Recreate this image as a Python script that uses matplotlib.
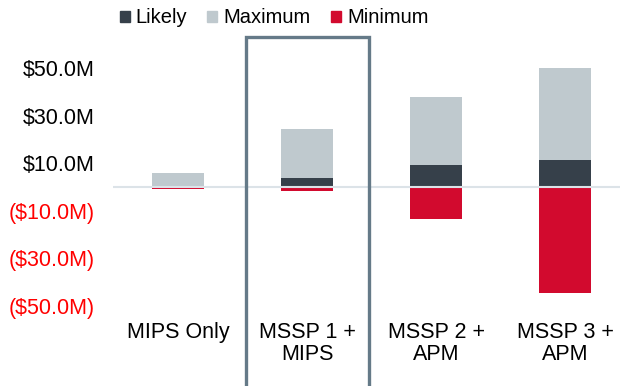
import matplotlib
matplotlib.use("Agg")
import matplotlib.pyplot as plt
from matplotlib.patches import Patch, Rectangle
from matplotlib.transforms import blended_transform_factory

plt.rcParams['font.family'] = ['Liberation Sans', 'DejaVu Sans']

categories = ["MIPS Only", "MSSP 1 +\nMIPS", "MSSP 2 +\nAPM", "MSSP 3 +\nAPM"]
likely = [0.3, 3.9, 9.2, 11.5]
maximum = [5.8, 24.4, 37.8, 50.0]
minimum = [-1.0, -1.6, -13.3, -44.4]
ticks = [50, 30, 10, -10, -30, -50]
tick_labels = ["$50.0M", "$30.0M", "$10.0M", "($10.0M)", "($30.0M)", "($50.0M)"]

c_likely = "#36404a"
c_max = "#bfc9ce"
c_min = "#d20a2e"

fig = plt.figure(figsize=(6.2, 3.86), dpi=100)
ax = fig.add_axes([0.1823, 0.1948, 0.8177, 0.6907])

x = list(range(len(categories)))
w = 0.4
ax.bar(x, likely, width=w, color=c_likely, zorder=2)
ax.bar(x, [m - l for m, l in zip(maximum, likely)], bottom=likely, width=w, color=c_max, zorder=2)
ax.bar(x, minimum, width=w, color=c_min, zorder=2)
ax.axhline(0, color="#dce3e8", lw=1.5, zorder=3)

ax.set_xlim(-0.504, 3.426)
ax.set_ylim(-52, 60)
ax.set_yticks(ticks)
ax.set_yticklabels(tick_labels, fontsize=15.5)
for lab, t in zip(ax.get_yticklabels(), ticks):
    lab.set_color("#ff0000" if t < 0 else "#000000")
ax.set_xticks(x)
ax.set_xticklabels(categories, fontsize=15.5, linespacing=1.05)
ax.tick_params(axis="y", length=0, pad=13.5)
ax.tick_params(axis="x", length=0, pad=8)
for s in ax.spines.values():
    s.set_visible(False)

# highlight box round the second group
tr = blended_transform_factory(ax.transData, fig.transFigure)
ax.add_patch(Rectangle((1 - 0.477, -0.1), 0.954, 1.004, transform=tr, fill=False,
                       edgecolor="#657a88", lw=2.4, clip_on=False, zorder=4))

handles = [Patch(color=c_likely), Patch(color=c_max), Patch(color=c_min)]
fig.legend(handles, ["Likely", "Maximum", "Minimum"], loc="upper center",
           bbox_to_anchor=(0.442, 1.025), ncol=3, frameon=False, fontsize=14.5,
           handlelength=0.5, handleheight=0.5, handletextpad=0.3, columnspacing=1.0)

fig.savefig("out.png", dpi=100)
